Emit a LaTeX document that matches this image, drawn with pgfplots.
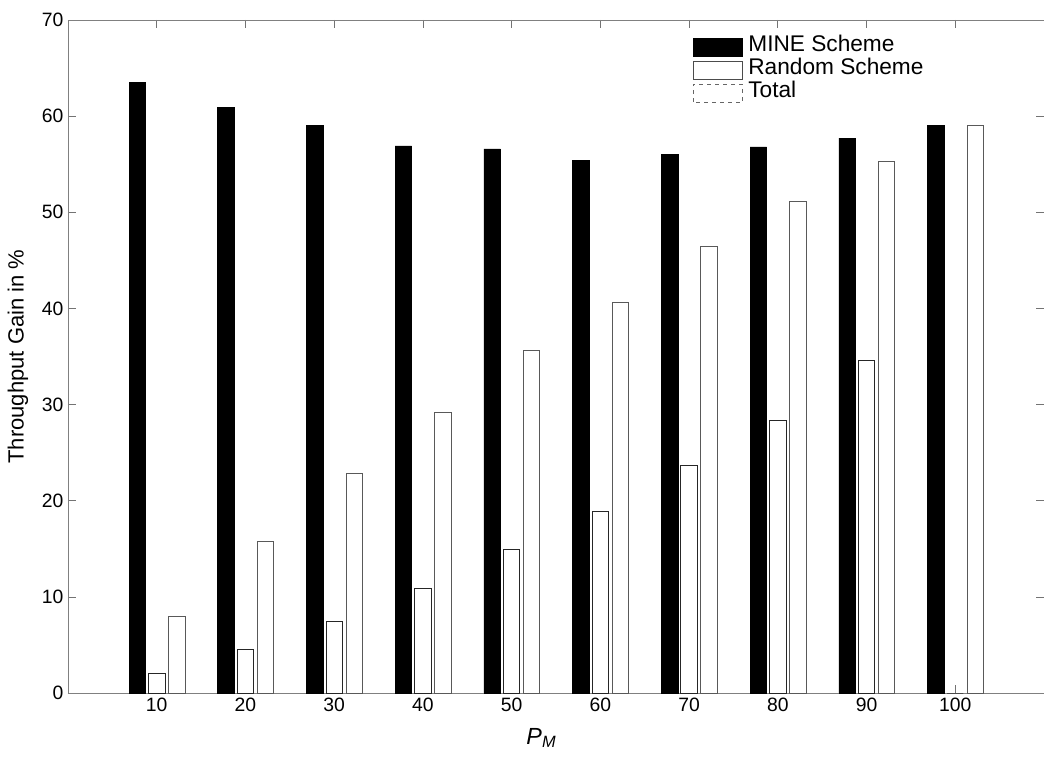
\documentclass[border=0pt]{standalone}
\usepackage{fontspec}
\setmainfont{Liberation Sans}
\usepackage{pgfplots}
\pgfplotsset{compat=1.18}
\begin{document}
\begin{tikzpicture}[x=1pt,y=1pt]
\useasboundingbox (-51,-47.25) rectangle (732,519.75);
\begin{axis}[at={(0,0)}, anchor=south west, scale only axis,
  width=732pt, height=504.75pt,
  xmin=0, xmax=110, ymin=0, ymax=70,
  xtick={10,20,30,40,50,60,70,80,90,100},
  ytick={0,10,20,30,40,50,60,70},
  tick align=inside, major tick length=6pt,
  axis line style={black!50, line width=0.5pt},
  tick style={black!55, line width=0.5pt},
  /pgf/number format/assume math mode=true,
  ticklabel style={font=\fontsize{14.5}{17}\selectfont},
  ylabel={Throughput Gain in \%},
  ylabel style={at={(axis description cs:-0.0512,0.5)}, anchor=center, font=\fontsize{16.5}{19}\selectfont},
  xlabel={\textit{P}\textsubscript{\textit{M}}},
  xlabel style={at={(axis description cs:0.485,-0.0669)}, anchor=center, font=\fontsize{17.5}{20}\selectfont},
  legend style={at={(axis description cs:0.640,0.977)}, anchor=north west, draw=none, fill=none,
    font=\fontsize{17}{17}\selectfont, row sep=0pt, inner sep=0pt,
    nodes={inner sep=0pt, text height=12pt, text depth=5.25pt}},
  legend cell align=left,
]
\addplot[ybar, bar width=1.85, bar shift=-2.2, fill=black, draw=black,
  legend image code/.code={\draw[fill=black,draw=black] (0pt,-6.75pt) rectangle (37pt,6.75pt);}]
  coordinates {(10,63.5) (20,60.9) (30,59.05) (40,56.9) (50,56.6) (60,55.4) (70,56.0) (80,56.8) (90,57.7) (100,59.0)};
\addlegendentry{\hspace{4pt}MINE Scheme}
\addplot[ybar, bar width=1.85, bar shift=0, fill=white, draw=black!85, line width=0.6pt,
  legend image code/.code={\draw[fill=white,draw=black!70,line width=0.6pt] (0pt,-6.75pt) rectangle (37pt,6.75pt);}]
  coordinates {(10,2.0) (20,4.5) (30,7.4) (40,10.9) (50,14.9) (60,18.9) (70,23.7) (80,28.4) (90,34.6) (100,0)};
\addlegendentry{\hspace{4pt}Random Scheme}
\addplot[ybar, bar width=1.85, bar shift=2.25, fill=white, draw=black!65, line width=0.6pt,
  legend image code/.code={\draw[fill=white,draw=black!60,dashed,line width=0.5pt] (0pt,-6.75pt) rectangle (37pt,6.75pt);}]
  coordinates {(10,8.0) (20,15.8) (30,22.8) (40,29.2) (50,35.6) (60,40.6) (70,46.4) (80,51.1) (90,55.3) (100,59.0)};
\addlegendentry{\hspace{4pt}Total}
\end{axis}
\end{tikzpicture}
\end{document}
